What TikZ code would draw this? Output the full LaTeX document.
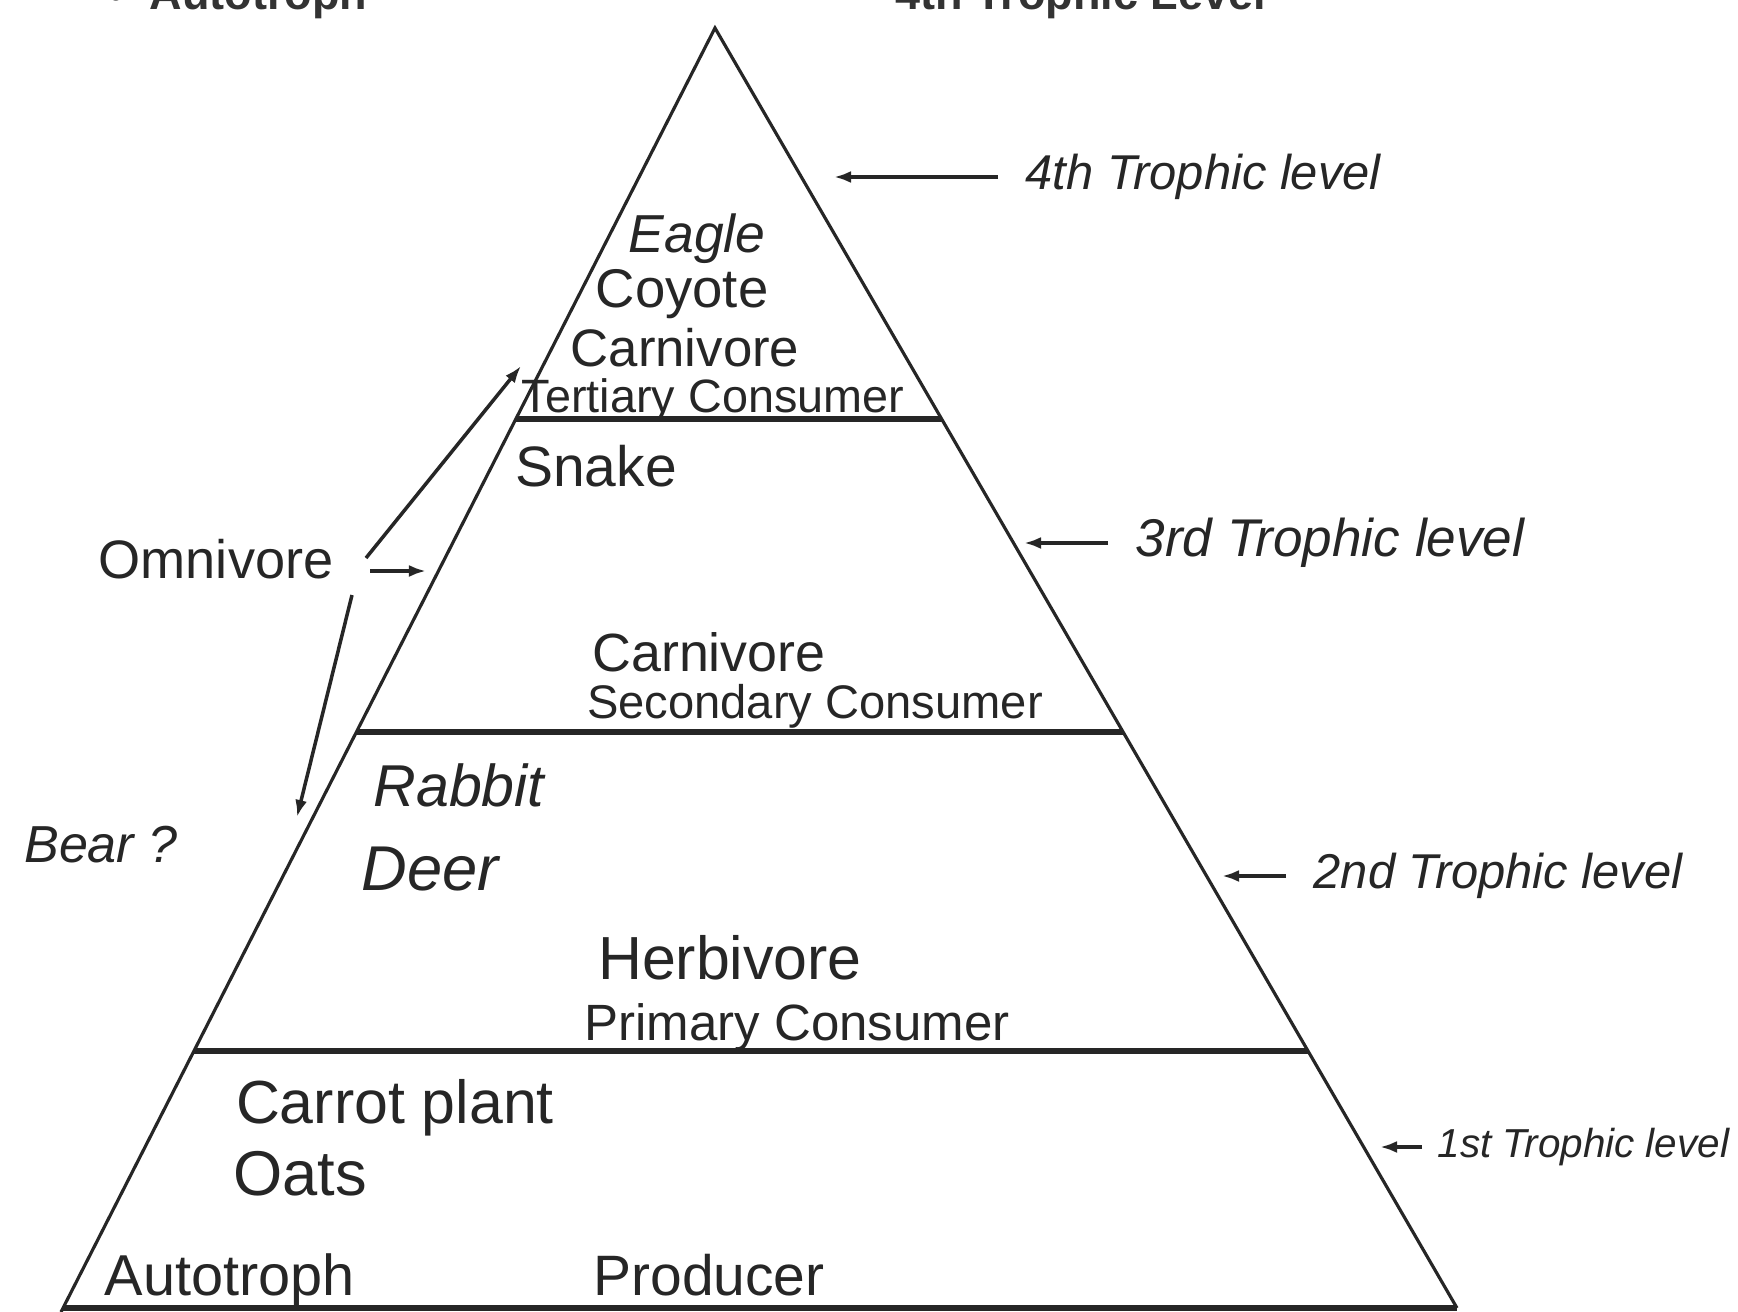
\documentclass[tikz,border=0pt]{standalone}
\usepackage{fontspec}
\setmainfont{Liberation Sans}
\usetikzlibrary{arrows.meta}
\newcommand\setfs[1]{\fontsize{#1}{#1}\selectfont}
\begin{document}
\begin{tikzpicture}[x=0.01cm,y=-0.01cm,
  side/.style={line width=0.9pt, black!85},
  levelline/.style={line width=1.5pt, black!85},
  arr/.style={line width=1pt, black!85, -{Latex[length=0.17cm,width=0.12cm]}},
  txt/.style={inner sep=0pt, anchor=mid, text=black!85},
  lab/.style={inner ysep=0pt, inner xsep=0.27cm, anchor=west, text=black!85},
  toptext/.style={inner sep=0pt, anchor=base, text=black!80, font=\bfseries\setfs{12.8}}]
\useasboundingbox (0,0) rectangle (1738,1312);
\clip (0,0) rectangle (1738,1312);
\fill[white] (0,0) rectangle (1738,1312);

% cut-off text at the top edge
\node[toptext] (topA) at (238,9) {\textbullet\ \ Autotroph};
\node[toptext] (topB) at (1081,9) {4th Trophic Level};

% pyramid
\coordinate (apex) at (715,28);
\coordinate (bl) at (61,1312);
\coordinate (br) at (1457,1308);
\draw[side] (bl) -- (apex) -- (br);
\coordinate (l3a) at (516,419);  \coordinate (l3b) at (942,419);
\coordinate (l2a) at (356,732);  \coordinate (l2b) at (1123,732);
\coordinate (l1a) at (194,1051); \coordinate (l1b) at (1308,1051);
\coordinate (l0a) at (63,1308);  \coordinate (l0b) at (1457,1308);
\draw[levelline] (l3a) -- (l3b);
\draw[levelline] (l2a) -- (l2b);
\draw[levelline] (l1a) -- (l1b);
\draw[levelline] (l0a) -- (l0b);

% texts inside the pyramid
\node[txt, font=\itshape\setfs{15.2}] (eagle) at (697,243) {Eagle};
\node[txt, font=\setfs{15.5}] (coyote) at (682,298) {Coyote};
\node[txt, font=\setfs{15}] (carn1) at (685,357) {Carnivore};
\node[txt, font=\setfs{13.3}] (tert) at (713,403) {Tertiary Consumer};
\node[txt, font=\setfs{16.2}] (snake) at (596,477) {Snake};
\node[txt, font=\setfs{15.3}] (carn2) at (709,662) {Carnivore};
\node[txt, font=\setfs{13.4}] (sec) at (815,709) {Secondary Consumer};
\node[txt, font=\itshape\setfs{16.8}] (rabbit) at (459,797) {Rabbit};
\node[txt, font=\itshape\setfs{18}] (deer) at (430,881) {Deer};
\node[txt, font=\setfs{17.3}] (herb) at (730,970) {Herbivore};
\node[txt, font=\setfs{14.5}] (prim) at (797,1031) {Primary Consumer};
\node[txt, font=\setfs{17.3}] (carrot) at (395,1114) {Carrot plant};
\node[txt, font=\setfs{18}] (oats) at (300,1186) {Oats};
\node[txt, font=\setfs{16.4}] (auto) at (230,1286) {Autotroph};
\node[txt, font=\setfs{16.2}] (prod) at (709,1286) {Producer};

% trophic level labels
\node[lab, font=\itshape\setfs{13.9}] (t4) at (998,177) {4th Trophic level};
\node[lab, font=\itshape\setfs{15.1}] (t3) at (1108,543) {3rd Trophic level};
\node[lab, font=\itshape\setfs{13.9}] (t2) at (1286,876) {2nd Trophic level};
\node[lab, font=\itshape\setfs{11.5}, inner xsep=0.15cm] (t1) at (1422,1147) {1st Trophic level};
\coordinate (p4) at (834,177);
\coordinate (p3) at (1024,543);
\coordinate (p2) at (1222,876);
\coordinate (p1) at (1380,1147);
\draw[arr] (t4.west) -- (p4);
\draw[arr] (t3.west) -- (p3);
\draw[arr] (t2.west) -- (p2);
\draw[arr] (t1.west) -- (p1);

% omnivore
\node[txt, font=\setfs{15.4}] (omni) at (216,569) {Omnivore};
\node[txt, font=\itshape\setfs{14.8}] (bear) at (101,853) {Bear ?};
\coordinate (o1) at (366,558);
\coordinate (o2) at (370,571);
\coordinate (o3) at (352,595);
\coordinate (q1) at (521,366);
\coordinate (q2) at (426,571);
\coordinate (q3) at (297,817);
\draw[arr] (o1) -- (q1);
\draw[arr] (o2) -- (q2);
\draw[arr] (o3) -- (q3);
\end{tikzpicture}
\end{document}
